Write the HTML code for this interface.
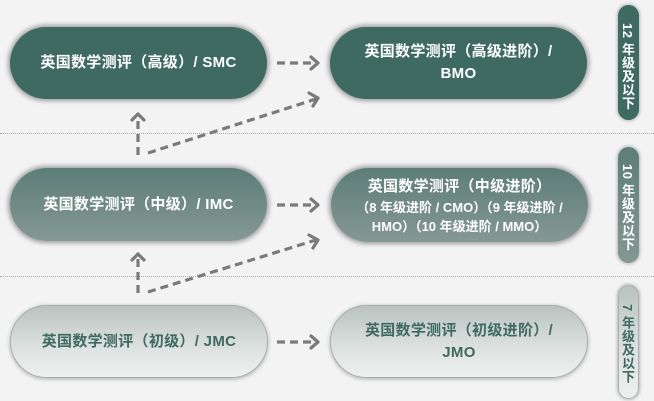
<!DOCTYPE html>
<html><head><meta charset="utf-8">
<style>
html,body{margin:0;padding:0;}
body{width:654px;height:401px;overflow:hidden;background:#f3f3f3;position:relative;font-family:"Liberation Sans","Noto Sans CJK SC",sans-serif;font-weight:bold;}
.pill{position:absolute;border-radius:38px;display:flex;flex-direction:column;align-items:center;justify-content:center;text-align:center;color:#fff;box-shadow:0 0 5px 2px rgba(0,0,0,0.35);}
.dark{background:#3e6a62;}
.mid{background:linear-gradient(#5d7d78,#859893);}
.light{background:linear-gradient(#b9c3c0,#dde2e0 60%,#eef0ef);color:#3f6a5f;border:1px solid #a7b0ad;box-sizing:border-box;box-shadow:0 1px 4px rgba(0,0,0,0.3);}
.t15{font-size:15px;line-height:22px;letter-spacing:0.3px;}
.t13{font-size:13px;line-height:19px;}
.tab{position:absolute;left:618px;width:21px;border-radius:11px;box-shadow:0 0 3px 1px rgba(0,0,0,0.25);box-sizing:border-box;}
.tab span{position:absolute;left:-1px;width:21px;writing-mode:vertical-rl;font-size:13px;line-height:21px;color:#fff;text-align:start;letter-spacing:0.5px;}
.tab.light span{color:#3f6a5f;left:-2px;}
.dot{position:absolute;left:0;width:654px;height:0;border-top:1px dotted #aaa;}
</style></head><body>
<div class="dot" style="top:133px"></div>
<div class="dot" style="top:276px"></div>

<div class="pill dark t15" style="left:10px;top:27px;width:257px;height:72px;">英国数学测评（高级）/ SMC</div>
<div class="pill dark t15" style="left:330px;top:27px;width:257px;height:72px;">英国数学测评（高级进阶）/<br>BMO</div>

<div class="pill mid t15" style="left:10px;top:168px;width:257px;height:73px;">英国数学测评（中级）/ IMC</div>
<div class="pill mid" style="left:331px;top:168px;width:257px;height:74px;"><div class="t15" style="margin-top:2px">英国数学测评（中级进阶）</div><div class="t13">（8 年级进阶 / CMO）（9 年级进阶 /<br>HMO）（10 年级进阶 / MMO）</div></div>

<div class="pill light t15" style="left:10px;top:305px;width:258px;height:73px;">英国数学测评（初级）/ JMC</div>
<div class="pill light t15" style="left:330px;top:305px;width:258px;height:73px;">英国数学测评（初级进阶）/<br>JMO</div>

<div class="tab dark" style="top:5px;height:115px;"><span style="top:18px">12 年级及以下</span></div>
<div class="tab mid" style="top:147px;height:116px;"><span style="top:17px">10 年级及以下</span></div>
<div class="tab light" style="top:285px;height:114px;"><span style="top:18px">7 年级及以下</span></div>

<svg width="654" height="401" style="position:absolute;left:0;top:0" fill="none" stroke="#7a7a7a" stroke-width="3.2">
<g stroke-dasharray="8 5">
<line x1="277" y1="63" x2="316" y2="63"/>
<line x1="277" y1="205" x2="316" y2="205"/>
<line x1="277" y1="342" x2="316" y2="342"/>
<line x1="148" y1="153" x2="316" y2="99"/>
<line x1="148" y1="292" x2="316" y2="240"/>
<line x1="138" y1="155" x2="138" y2="116"/>
<line x1="138" y1="293" x2="138" y2="256"/>
</g>
<g stroke-linecap="round" stroke-linejoin="round">
<polyline points="311,57 318,63 311,69"/>
<polyline points="311,199 318,205 311,211"/>
<polyline points="311,336 318,342 311,348"/>
<polyline points="309,93 318,98 313,106"/>
<polyline points="309,235 318,240 313,248"/>
<polyline points="132,120 138,114 144,120"/>
<polyline points="132,260 138,254 144,260"/>
</g>
</svg>
</body></html>
